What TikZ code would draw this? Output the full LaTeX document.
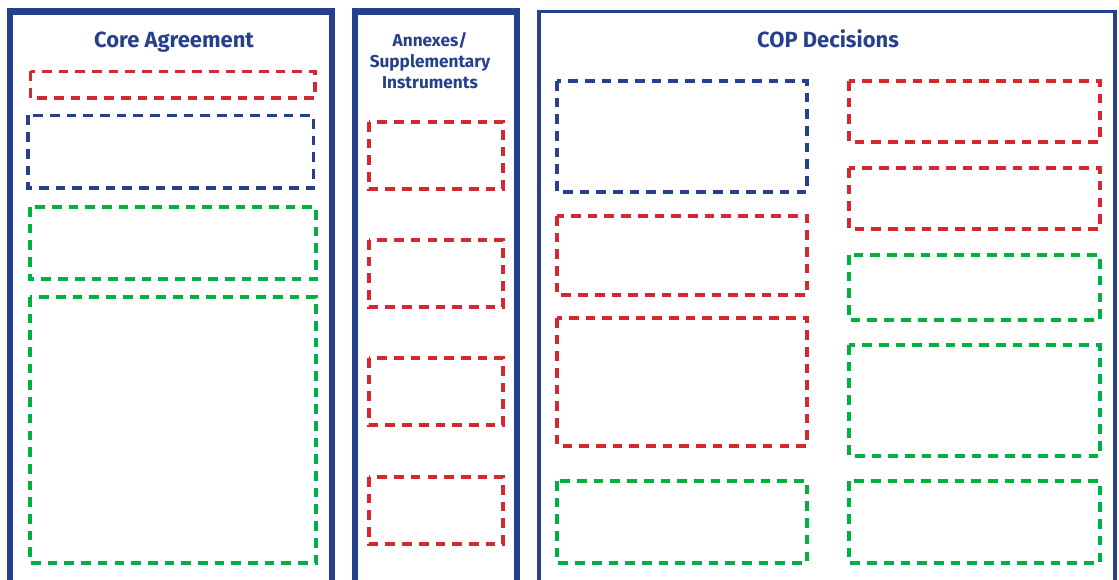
\documentclass[tikz,border=0pt]{standalone}
\usepackage{fontspec}
\setmainfont{Fira Sans}
\definecolor{panelblue}{RGB}{38,64,142}
\definecolor{boxred}{RGB}{214,39,48}
\definecolor{boxgreen}{RGB}{0,176,64}
\tikzset{
  panel/.style={draw=panelblue, line width=3.7pt},
  thinpanel/.style={draw=panelblue, line width=2pt},
  dbox/.style={line width=1.9pt, dash pattern=on 5.5pt off 4pt},
  heading/.style={text=panelblue, font=\bfseries\fontsize{12.5}{15}\selectfont},
  subheading/.style={text=panelblue, font=\bfseries\fontsize{9.8}{11.9}\selectfont, align=center},
}

\begin{document}
\begin{tikzpicture}[x=0.02cm, y=-0.02cm]
    \useasboundingbox (0,0) rectangle (1119,580);
    \clip (0,0) rectangle (1119,580);

    % Panels
    \draw[panel] (10,11.5) rectangle (332,620);
    \draw[panel] (355,11.5) rectangle (517,620);
    \draw[thinpanel] (539,11.5) rectangle (1115,620);

    % Headings
    \node[heading, anchor=base] (core) at (174,48) {Core Agreement};
    \node[subheading] (annex) at (430,61) {Annexes/\\Supplementary\\Instruments};
    \node[heading, anchor=base] (cop) at (828,48) {COP Decisions};

    % Core Agreement
    \draw[dbox, boxred] (30.5,71.5) rectangle (315,98);
    \draw[dbox, panelblue] (28,115.5) rectangle (313.5,188);
    \draw[dbox, boxgreen] (30,207) rectangle (316,279);
    \draw[dbox, boxgreen] (30,297) rectangle (316,563);

    % Annexes
    \foreach \y in {122,240,358,477} {
        \draw[dbox, boxred] (369,\y) rectangle (503,\y+67);
    }

    % COP Decisions, left column
    \draw[dbox, panelblue] (557,81) rectangle (807,192);
    \draw[dbox, boxred] (557,216) rectangle (807,295);
    \draw[dbox, boxred] (557,318) rectangle (807,446);
    \draw[dbox, boxgreen] (557,481) rectangle (807,563);

    % COP Decisions, right column
    \foreach \ya/\yb in {81/142, 168/229} {
        \draw[dbox, boxred] (849,\ya) rectangle (1100,\yb);
    }
    \foreach \ya/\yb in {255/320, 345/456, 481/563} {
        \draw[dbox, boxgreen] (849,\ya) rectangle (1100,\yb);
    }

\end{tikzpicture}
\end{document}
